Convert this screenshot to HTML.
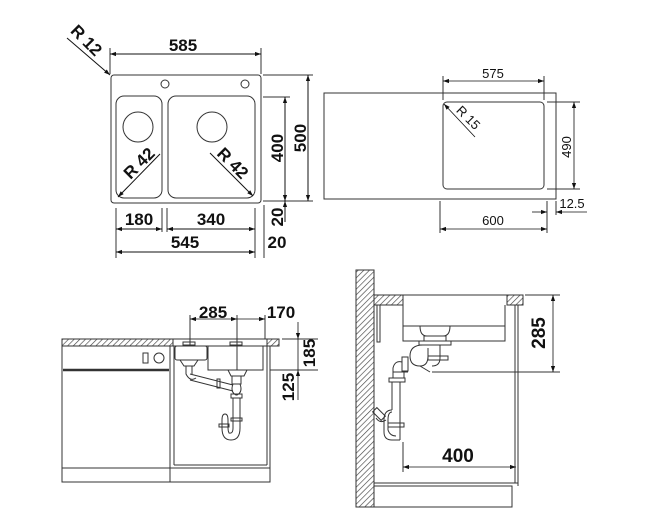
<!DOCTYPE html>
<html><head><meta charset="utf-8"><style>
html,body{margin:0;padding:0;background:#fff;}
svg{display:block;}
text{font-family:"Liberation Sans",Arial,sans-serif;fill:#111;}
.b{font-weight:bold;font-size:17px;}
.s{font-size:13px;}
</style></head><body>
<svg width="648" height="530" viewBox="0 0 648 530" xmlns="http://www.w3.org/2000/svg">
<defs>
<marker id="a" viewBox="0 0 10 10" refX="10" refY="5" markerWidth="9" markerHeight="6" orient="auto-start-reverse" markerUnits="userSpaceOnUse"><path d="M0,1.5 L10,5 L0,8.5 z" fill="#111"/></marker>
<pattern id="h" width="4" height="4" patternUnits="userSpaceOnUse" patternTransform="rotate(45)"><rect width="4" height="4" fill="#fff"/><line x1="0" y1="0" x2="0" y2="4" stroke="#444" stroke-width="1.3"/></pattern>
</defs>
<g fill="none" stroke="#333" stroke-width="1">
<rect x="111" y="75" width="150" height="128" rx="3"/>
<circle cx="165" cy="84" r="4"/><circle cx="245" cy="84" r="4"/>
<rect x="116" y="96" width="46" height="102" rx="8"/>
<rect x="168" y="96" width="87" height="102" rx="8"/>
<circle cx="138" cy="127" r="15"/><circle cx="212" cy="127" r="15"/>
<line x1="110" y1="48" x2="110" y2="74"/><line x1="261" y1="48" x2="261" y2="74"/>
<line x1="263" y1="75" x2="313" y2="75"/><line x1="263" y1="97" x2="290" y2="97"/>
<line x1="263" y1="201" x2="313" y2="201"/>
<line x1="116" y1="208" x2="116" y2="258"/><line x1="162" y1="208" x2="162" y2="232"/>
<line x1="167" y1="208" x2="167" y2="232"/><line x1="255" y1="208" x2="255" y2="258"/>
<line x1="264" y1="205" x2="264" y2="258"/>
</g>
<g stroke="#111" stroke-width="1" fill="none">
<line x1="67" y1="38" x2="110" y2="75" marker-end="url(#a)"/>
<line x1="110" y1="54" x2="261" y2="54" marker-start="url(#a)" marker-end="url(#a)"/>
<line x1="160" y1="154" x2="118" y2="197" marker-end="url(#a)"/>
<line x1="210" y1="153" x2="253" y2="196" marker-end="url(#a)"/>
<line x1="285" y1="97" x2="285" y2="201" marker-start="url(#a)" marker-end="url(#a)"/>
<line x1="308" y1="75" x2="308" y2="201" marker-start="url(#a)" marker-end="url(#a)"/>
<line x1="285" y1="201" x2="285" y2="222" marker-start="url(#a)"/>
<line x1="116" y1="229" x2="162" y2="229" marker-start="url(#a)" marker-end="url(#a)"/>
<line x1="167" y1="229" x2="255" y2="229" marker-start="url(#a)" marker-end="url(#a)"/>
<line x1="116" y1="252" x2="255" y2="252" marker-start="url(#a)" marker-end="url(#a)"/>
</g>
<text class="b" x="85" y="48" transform="rotate(45 88 43)" text-anchor="middle">R 12</text>
<text class="b" x="183" y="51" text-anchor="middle">585</text>
<text class="b" x="139" y="169" transform="rotate(-45 139 163)" text-anchor="middle">R 42</text>
<text class="b" x="233" y="169" transform="rotate(45 233 163)" text-anchor="middle">R 42</text>
<text class="b" x="277" y="154" transform="rotate(-90 277 148)" text-anchor="middle">400</text>
<text class="b" x="300" y="144" transform="rotate(-90 300 138)" text-anchor="middle">500</text>
<text class="b" x="277" y="223" transform="rotate(-90 277 217)" text-anchor="middle">20</text>
<text class="b" x="277" y="248" text-anchor="middle">20</text>
<text class="b" x="139" y="225" text-anchor="middle">180</text>
<text class="b" x="211" y="225" text-anchor="middle">340</text>
<text class="b" x="185" y="248" text-anchor="middle">545</text>

<g fill="none" stroke="#333" stroke-width="1">
<rect x="324" y="93" width="232" height="106"/>
<rect x="443" y="102" width="101" height="87" rx="4"/>
<line x1="443" y1="76" x2="443" y2="100"/><line x1="544" y1="76" x2="544" y2="100"/>
<line x1="547" y1="102" x2="580" y2="102"/><line x1="547" y1="189" x2="580" y2="189"/>
<line x1="440" y1="201" x2="440" y2="233"/><line x1="547" y1="201" x2="547" y2="233"/>
<line x1="556" y1="201" x2="556" y2="215"/>
</g>
<g stroke="#111" stroke-width="0.8" fill="none">
<line x1="443" y1="81" x2="544" y2="81" marker-start="url(#a)" marker-end="url(#a)"/>
<line x1="475" y1="137" x2="444" y2="104" marker-end="url(#a)"/>
<line x1="574" y1="102" x2="574" y2="189" marker-start="url(#a)" marker-end="url(#a)"/>
<line x1="532" y1="212" x2="547" y2="212" marker-end="url(#a)"/>
<line x1="587" y1="212" x2="556" y2="212" marker-end="url(#a)"/>
<line x1="440" y1="229" x2="547" y2="229" marker-start="url(#a)" marker-end="url(#a)"/>
</g>
<text class="s" x="493" y="78" text-anchor="middle">575</text>
<text class="s" x="468" y="122" transform="rotate(45 468 118)" text-anchor="middle">R 15</text>
<text class="s" x="567" y="151" transform="rotate(-90 567 147)" text-anchor="middle">490</text>
<text class="s" x="572" y="208" text-anchor="middle">12.5</text>
<text class="s" x="493" y="225" text-anchor="middle">600</text>

<rect x="62" y="339" width="111" height="7" fill="url(#h)" stroke="#333"/>
<rect x="267" y="339" width="12" height="7" fill="url(#h)" stroke="#333"/>
<g fill="none" stroke="#333" stroke-width="1">
<line x1="173" y1="339" x2="267" y2="339"/>
<rect x="62" y="346" width="108" height="136"/>
<line x1="63" y1="370" x2="169" y2="370" stroke-width="2.5"/>
<line x1="62" y1="468" x2="270" y2="468"/>
<rect x="170" y="346" width="100" height="136"/>
<line x1="174" y1="346" x2="174" y2="465"/><line x1="267" y1="346" x2="267" y2="465"/>
<line x1="174" y1="465" x2="267" y2="465"/>
<rect x="143" y="353" width="5" height="10"/><circle cx="159" cy="358" r="5"/>
<rect x="175" y="346" width="32" height="14" rx="2"/>
<rect x="208" y="346" width="55" height="24"/>
<rect x="183" y="342" width="12" height="3"/><rect x="230" y="342" width="12" height="3"/>
<path d="M180,360 L184,366 L194,366 L198,360"/>
<path d="M186,366 L186,374 Q190,382 196,378"/>
<path d="M192,366 L192,374"/>
<line x1="190" y1="374" x2="233" y2="385"/><line x1="190" y1="380" x2="233" y2="391"/>
<rect x="217" y="379" width="3" height="9"/>
<path d="M228,370 L231,376 L244,376 L247,370"/>
<rect x="232" y="376" width="9" height="8"/>
<path d="M233,384 Q230,392 236,395 L237,395 Q243,392 240,384"/>
<rect x="231" y="394" width="11" height="4"/>
<line x1="233" y1="398" x2="233" y2="428"/><line x1="240" y1="398" x2="240" y2="428"/>
<rect x="231" y="418" width="11" height="3"/>
<path d="M240,428 Q240,440 231,440 Q222,440 222,428 L222,420 M233,428 Q233,434 229,433 Q228,431 228,428 L228,420"/>
<path d="M222,420 Q222,414 225,414 Q228,414 228,420"/>
<rect x="219" y="424" width="10" height="3"/>
<line x1="190" y1="315" x2="190" y2="346"/><line x1="237" y1="315" x2="237" y2="370"/><line x1="265" y1="315" x2="265" y2="339"/>
<line x1="282" y1="339" x2="318" y2="339"/><line x1="270" y1="370" x2="318" y2="370"/>
</g>
<g stroke="#111" stroke-width="0.8" fill="none">
<line x1="190" y1="319" x2="237" y2="319" marker-start="url(#a)" marker-end="url(#a)"/>
<line x1="237" y1="319" x2="265" y2="319" marker-end="url(#a)"/>
<line x1="298" y1="322" x2="298" y2="339" marker-end="url(#a)"/>
<line x1="298" y1="339" x2="298" y2="370" />
<line x1="298" y1="400" x2="298" y2="370" marker-end="url(#a)"/>
</g>
<text class="b" x="213" y="318" text-anchor="middle">285</text>
<text class="b" x="281" y="318" text-anchor="middle">170</text>
<text class="b" x="309" y="359" transform="rotate(-90 309 353)" text-anchor="middle">185</text>
<text class="b" x="288" y="393" transform="rotate(-90 288 387)" text-anchor="middle">125</text>

<rect x="356" y="270" width="18" height="237" fill="url(#h)" stroke="#333"/>
<rect x="374" y="295" width="29" height="10" fill="url(#h)" stroke="#333"/>
<rect x="507" y="295" width="16" height="10" fill="url(#h)" stroke="#333"/>
<g fill="none" stroke="#333" stroke-width="1">
<line x1="403" y1="295" x2="507" y2="295"/>
<path d="M403,305 L403,341 L505,341 L505,305"/>
<line x1="403" y1="326" x2="505" y2="326"/>
<path d="M377,305 L377,342 L380,342 L380,305"/>
<line x1="518" y1="305" x2="518" y2="486"/><line x1="515" y1="305" x2="515" y2="483"/>
<line x1="374" y1="483" x2="518" y2="483"/>
<path d="M374,486 L512,486 L512,507 L374,507"/>
<path d="M420,326 Q420,336 427,336 L443,336 Q450,336 450,326"/>
<rect x="424" y="336" width="22" height="5"/>
<rect x="419" y="341" width="32" height="4"/>
<path d="M423,345 Q410,345 410,356 Q410,366 420,366 Q428,366 428,356 L428,348 M440,345 L440,358 Q440,366 432,366"/>
<rect x="428" y="356" width="20" height="4"/>
<line x1="420" y1="366" x2="430" y2="372"/><line x1="432" y1="372" x2="560" y2="372"/>
<rect x="402" y="357" width="6" height="14"/>
<path d="M402,362 Q395,360 393,368 L393,378 M404,372 L404,378"/>
<line x1="393" y1="372" x2="408" y2="372"/>
<rect x="389" y="378" width="16" height="4"/>
<line x1="392" y1="382" x2="392" y2="410"/><line x1="400" y1="382" x2="400" y2="440"/>
<path d="M392,410 Q384,410 384,420 L384,432 Q384,440 392,440 L400,440"/>
<path d="M392,412 Q388,412 388,420 L388,430 Q390,436 396,436"/>
<rect x="388" y="423" width="16" height="4"/>
<rect x="376" y="408" width="6" height="12" transform="rotate(-45 379 414)"/>
<path d="M376,418 Q380,424 386,420"/>
<line x1="525" y1="295" x2="560" y2="295"/>
<line x1="403" y1="442" x2="403" y2="472"/>
</g>
<g stroke="#111" stroke-width="0.8" fill="none">
<line x1="553" y1="295" x2="553" y2="372" marker-start="url(#a)" marker-end="url(#a)"/>
<line x1="403" y1="467" x2="516" y2="467" marker-start="url(#a)" marker-end="url(#a)"/>
</g>
<text class="b" x="540" y="338" transform="rotate(-90 540 333)" text-anchor="middle" style="font-size:19px">285</text>
<text class="b" x="458" y="462" text-anchor="middle" style="font-size:19px">400</text>
</svg>
</body></html>
